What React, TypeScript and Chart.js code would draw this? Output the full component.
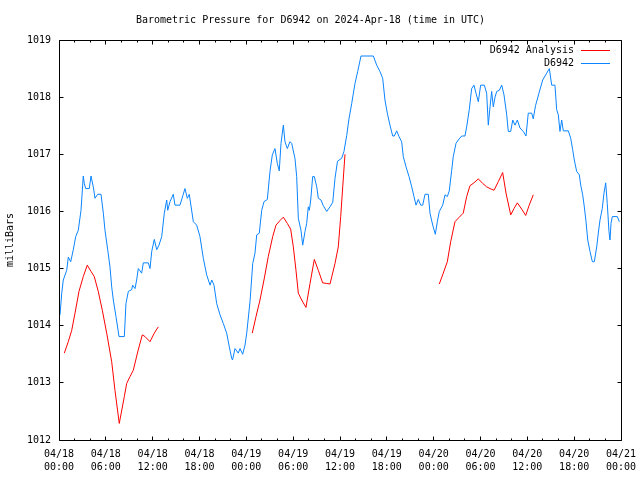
import React, { useEffect, useRef } from "react";
import { Chart, registerables } from "chart.js";

Chart.register(...registerables);

const TITLE = "Barometric Pressure for D6942 on 2024-Apr-18 (time in UTC)";
const Y_TITLE = "milliBars";
const FONT = "'DejaVu Sans Mono', 'Liberation Mono', monospace";

const X_MIN = 0;
const X_MAX = 72;
const X_MAJOR_STEP = 6;
const X_MINOR_STEP = 2;
const X_TICK_DATES = ["04/18", "04/18", "04/18", "04/18", "04/19", "04/19", "04/19", "04/19", "04/20", "04/20", "04/20", "04/20", "04/21"];
const X_TICK_TIMES = ["00:00", "06:00", "12:00", "18:00", "00:00", "06:00", "12:00", "18:00", "00:00", "06:00", "12:00", "18:00", "00:00"];
const Y_MIN = 1012;
const Y_MAX = 1019;
const Y_STEP = 1;

const STATION_LABEL = "D6942";
const ANALYSIS_LABEL = "D6942 Analysis";
const STATION_COLOR = "#0a84ff";
const ANALYSIS_COLOR = "#ff0000";

// hours since 2024-04-18 00:00 UTC
const stationHours = [
  0.13, 0.35, 0.55, 0.99, 1.19, 1.5, 1.83, 2.14, 2.47, 2.82, 3.11, 3.24, 3.42, 3.88, 4.1, 4.39, 4.61, 4.96, 5.38, 5.68,
  5.89, 6.24, 6.53, 6.75, 6.96, 7.3, 7.69, 8.37, 8.58, 8.88, 9.31, 9.44, 9.74, 9.95, 10.16, 10.59, 10.8, 11.44, 11.66, 11.88,
  12.21, 12.52, 12.81, 13.16, 13.49, 13.8, 13.93, 14.22, 14.64, 14.86, 15.5, 15.92, 16.14, 16.44, 16.69, 17.21, 17.64, 18.06, 18.49, 18.92,
  19.35, 19.57, 19.86, 20.2, 20.63, 21.05, 21.48, 21.82, 22.12, 22.23, 22.55, 22.97, 23.19, 23.53, 23.83, 24.05, 24.47, 24.82, 25.11, 25.33,
  25.66, 25.97, 26.26, 26.69, 27.03, 27.33, 27.67, 27.97, 28.22, 28.44, 28.74, 28.95, 29.25, 29.59, 29.81, 30.23, 30.45, 30.66, 31.0, 31.22,
  31.52, 31.73, 31.94, 32.07, 32.25, 32.5, 32.71, 33.02, 33.22, 33.57, 33.86, 34.3, 34.72, 35.07, 35.36, 35.68, 36.22, 36.51, 36.86, 37.15,
  37.5, 37.92, 38.27, 38.69, 40.27, 40.7, 41.12, 41.47, 41.76, 42.06, 42.4, 42.75, 42.96, 43.26, 43.56, 43.9, 44.11, 44.46, 44.84, 45.19,
  45.48, 45.74, 46.03, 46.34, 46.6, 46.89, 47.31, 47.53, 47.88, 48.21, 48.47, 48.72, 49.16, 49.45, 49.75, 50.0, 50.31, 50.51, 50.86, 51.15,
  51.59, 52.01, 52.23, 52.56, 52.87, 53.16, 53.42, 53.72, 54.02, 54.49, 54.79, 55.0, 55.22, 55.43, 55.64, 55.86, 56.08, 56.41, 56.72, 57.01,
  57.36, 57.56, 57.87, 58.13, 58.42, 58.72, 59.06, 59.48, 59.83, 60.12, 60.56, 60.76, 61.05, 61.49, 61.97, 62.48, 62.82, 63.12, 63.54, 63.76,
  63.97, 64.18, 64.4, 64.61, 65.25, 65.56, 65.81, 66.02, 66.32, 66.66, 66.84, 67.09, 67.3, 67.52, 67.74, 68.03, 68.33, 68.58, 68.89, 69.09,
  69.31, 69.6, 69.82, 70.04, 70.24, 70.46, 70.59, 70.72, 70.89, 71.53, 71.78,
];
const stationValues = [
  1014.19, 1014.57, 1014.8, 1014.97, 1015.2, 1015.12, 1015.33, 1015.56, 1015.67, 1016.02, 1016.62, 1016.49, 1016.4, 1016.4, 1016.62, 1016.43, 1016.23, 1016.3, 1016.3, 1015.97,
  1015.67, 1015.33, 1015.03, 1014.68, 1014.45, 1014.16, 1013.81, 1013.81, 1014.39, 1014.6, 1014.63, 1014.71, 1014.65, 1014.8, 1015.0, 1014.92, 1015.1, 1015.1, 1015.0, 1015.3,
  1015.51, 1015.33, 1015.41, 1015.56, 1015.97, 1016.2, 1016.02, 1016.17, 1016.3, 1016.11, 1016.11, 1016.3, 1016.4, 1016.23, 1016.3, 1015.82, 1015.76, 1015.56, 1015.18, 1014.89,
  1014.71, 1014.8, 1014.71, 1014.39, 1014.19, 1014.04, 1013.87, 1013.63, 1013.43, 1013.4, 1013.6, 1013.52, 1013.6, 1013.5, 1013.66, 1013.87, 1014.42, 1015.09, 1015.27, 1015.59,
  1015.62, 1016.02, 1016.17, 1016.21, 1016.7, 1016.99, 1017.1, 1016.84, 1016.71, 1017.19, 1017.51, 1017.22, 1017.1, 1017.22, 1017.19, 1016.93, 1016.61, 1015.88, 1015.67, 1015.41,
  1015.65, 1015.79, 1016.08, 1016.02, 1016.2, 1016.61, 1016.61, 1016.43, 1016.23, 1016.2, 1016.1, 1016.0, 1016.08, 1016.16, 1016.58, 1016.88, 1016.93, 1017.05, 1017.33, 1017.62,
  1017.89, 1018.24, 1018.45, 1018.72, 1018.72, 1018.56, 1018.45, 1018.33, 1017.95, 1017.72, 1017.51, 1017.32, 1017.32, 1017.41, 1017.31, 1017.22, 1016.96, 1016.78, 1016.61, 1016.43,
  1016.26, 1016.11, 1016.21, 1016.11, 1016.11, 1016.3, 1016.3, 1015.97, 1015.76, 1015.6, 1015.82, 1016.0, 1016.11, 1016.29, 1016.26, 1016.36, 1016.72, 1016.96, 1017.19, 1017.25,
  1017.32, 1017.32, 1017.48, 1017.78, 1018.15, 1018.21, 1018.07, 1017.92, 1018.21, 1018.21, 1018.07, 1017.51, 1017.83, 1018.1, 1017.83, 1018.0, 1018.1, 1018.12, 1018.21, 1018.04,
  1017.69, 1017.4, 1017.4, 1017.6, 1017.51, 1017.6, 1017.46, 1017.4, 1017.32, 1017.72, 1017.72, 1017.62, 1017.85, 1018.07, 1018.3, 1018.42, 1018.5, 1018.21, 1018.21, 1017.78,
  1017.69, 1017.4, 1017.6, 1017.41, 1017.41, 1017.28, 1017.08, 1016.9, 1016.7, 1016.64, 1016.46, 1016.29, 1016.08, 1015.82, 1015.5, 1015.3, 1015.12, 1015.12, 1015.38, 1015.62,
  1015.85, 1016.05, 1016.32, 1016.5, 1016.14, 1015.65, 1015.5, 1015.79, 1015.91, 1015.91, 1015.82,
];

// null values mark the gaps between analysis runs
const analysisHours = [
  0.68, 1.19, 1.63, 2.05, 2.56, 3.11, 3.62, 4.1, 4.52, 5.03, 5.55, 6.11, 6.75, 7.17, 7.72, 8.37, 8.67, 9.1, 9.52, 10.08, 10.67, 11.02, 11.66, 12.21, 12.72,
  18.0,
  24.76, 25.24, 25.75, 26.26, 26.81, 27.38, 27.8, 28.31, 28.74, 29.25, 29.68, 30.02, 30.36, 30.66, 31.09, 31.64, 32.16, 32.71, 33.22, 33.78, 34.3, 34.72, 35.36, 35.78, 36.09, 36.35, 36.64,
  42.0,
  48.72, 49.23, 49.75, 50.18, 50.73, 51.28, 51.79, 52.23, 52.65, 53.16, 53.72, 54.28, 54.79, 55.22, 55.73, 56.28, 56.84, 57.27, 57.87, 58.29, 58.72, 59.28, 59.79, 60.24, 60.76,
];
const analysisValues = [
  1013.52, 1013.72, 1013.92, 1014.22, 1014.6, 1014.86, 1015.06, 1014.95, 1014.86, 1014.6, 1014.27, 1013.87, 1013.37, 1012.87, 1012.29, 1012.76, 1012.99, 1013.11, 1013.22, 1013.54, 1013.84, 1013.81, 1013.72, 1013.87, 1013.98,
  null,
  1013.87, 1014.16, 1014.45, 1014.8, 1015.21, 1015.56, 1015.76, 1015.84, 1015.9, 1015.79, 1015.69, 1015.38, 1014.97, 1014.57, 1014.45, 1014.32, 1014.74, 1015.16, 1014.97, 1014.75, 1014.74, 1014.73, 1015.09, 1015.38, 1015.91, 1016.43, 1017.0,
  null,
  1014.73, 1014.92, 1015.12, 1015.47, 1015.82, 1015.9, 1015.97, 1016.26, 1016.45, 1016.5, 1016.57, 1016.49, 1016.43, 1016.4, 1016.37, 1016.52, 1016.68, 1016.32, 1015.94, 1016.05, 1016.15, 1016.04, 1015.93, 1016.11, 1016.29,
];

const crisp = (v: number) => Math.floor(v) + 0.5;

const framePlugin = {
  id: "gnuplotFrame",
  afterDatasetsDraw(chart: any) {
    const { ctx, chartArea: a, scales } = chart;
    const x = scales.x;
    const y = scales.y;
    const L = crisp(a.left);
    const R = crisp(a.right);
    const T = crisp(a.top);
    const B = crisp(a.bottom);
    ctx.save();
    ctx.strokeStyle = "#000";
    ctx.lineWidth = 1;
    ctx.beginPath();
    // x ticks (major + minor), bottom and top, pointing inward
    for (let h = X_MIN; h <= X_MAX + 1e-9; h += X_MINOR_STEP) {
      const px = crisp(x.getPixelForValue(h));
      const len = h % X_MAJOR_STEP === 0 ? 4 : 2;
      ctx.moveTo(px, B);
      ctx.lineTo(px, B - len);
      ctx.moveTo(px, T);
      ctx.lineTo(px, T + len);
    }
    // y ticks left and right
    for (let v = Y_MIN; v <= Y_MAX + 1e-9; v += Y_STEP) {
      const py = crisp(y.getPixelForValue(v));
      ctx.moveTo(L, py);
      ctx.lineTo(L + 4, py);
      ctx.moveTo(R, py);
      ctx.lineTo(R - 4, py);
    }
    ctx.stroke();
    ctx.beginPath();
    ctx.rect(L, T, R - L, B - T);
    ctx.stroke();

    // legend, top-right inside the plot
    const items = chart.data.datasets.map((d: any) => ({ label: d.label, color: d.borderColor }));
    ctx.font = `10px ${FONT}`;
    ctx.textAlign = "right";
    ctx.textBaseline = "middle";
    items.forEach((it: any, i: number) => {
      const ly = a.top + 10 + i * 13;
      ctx.fillStyle = "#000";
      ctx.fillText(it.label, a.right - 47, ly);
      ctx.strokeStyle = it.color;
      ctx.beginPath();
      ctx.moveTo(a.right - 40, crisp(ly));
      ctx.lineTo(a.right - 11, crisp(ly));
      ctx.stroke();
    });
    ctx.restore();
  },
};

export default function App() {
  const ref = useRef<HTMLCanvasElement | null>(null);

  useEffect(() => {
    if (!ref.current) return;
    const station = stationHours.map((h, i) => ({ x: h, y: stationValues[i] }));
    const analysis = analysisHours.map((h, i) => ({ x: h, y: analysisValues[i] }));

    const chart = new Chart(ref.current, {
      type: "line",
      data: {
        datasets: [
          {
            label: ANALYSIS_LABEL,
            data: analysis as any,
            borderColor: ANALYSIS_COLOR,
            backgroundColor: ANALYSIS_COLOR,
            borderWidth: 1,
            pointRadius: 0,
            tension: 0,
            spanGaps: false,
          },
          {
            label: STATION_LABEL,
            data: station as any,
            borderColor: STATION_COLOR,
            backgroundColor: STATION_COLOR,
            borderWidth: 1,
            pointRadius: 0,
            tension: 0,
            spanGaps: false,
          },
        ],
      },
      options: {
        responsive: false,
        animation: false,
        devicePixelRatio: 1,
        layout: { padding: { left: 0, right: 19, top: 0, bottom: 0 } },
        plugins: {
          legend: { display: false },
          tooltip: { enabled: false },
          title: {
            display: true,
            text: TITLE,
            color: "#000",
            font: { family: FONT, size: 10, weight: "normal", lineHeight: 1.2 },
            padding: { top: 14, bottom: 14 },
          },
        },
        scales: {
          x: {
            type: "linear",
            min: X_MIN,
            max: X_MAX,
            grid: { display: false, drawTicks: false },
            border: { display: false },
            ticks: {
              stepSize: X_MAJOR_STEP,
              autoSkip: false,
              maxRotation: 0,
              padding: 8,
              color: "#000",
              font: { family: FONT, size: 10, lineHeight: 1.3 },
              callback: (value: any) => {
                const idx = Math.round((Number(value) - X_MIN) / X_MAJOR_STEP);
                return [X_TICK_DATES[idx], X_TICK_TIMES[idx]];
              },
            },
            afterFit: (scale: any) => {
              scale.height = 40;
              scale.paddingLeft = 0;
              scale.paddingRight = 0;
            },
          },
          y: {
            type: "linear",
            min: Y_MIN,
            max: Y_MAX,
            grid: { display: false, drawTicks: false },
            border: { display: false },
            ticks: {
              stepSize: Y_STEP,
              padding: 8,
              color: "#000",
              font: { family: FONT, size: 10 },
              callback: (value: any) => String(value),
            },
            title: {
              display: true,
              text: Y_TITLE,
              color: "#000",
              font: { family: FONT, size: 10, lineHeight: 1.2 },
              padding: { top: 4, bottom: 0 },
            },
            afterFit: (scale: any) => {
              scale.width = 59;
              scale.paddingTop = 0;
              scale.paddingBottom = 0;
            },
          },
        },
      },
      plugins: [framePlugin],
    });
    return () => chart.destroy();
  }, []);

  return (
    <div style={{ position: "fixed", left: 0, top: 0, width: 640, height: 480, background: "#fff" }}>
      <canvas ref={ref} width={640} height={480} style={{ display: "block", width: 640, height: 480 }} />
    </div>
  );
}
